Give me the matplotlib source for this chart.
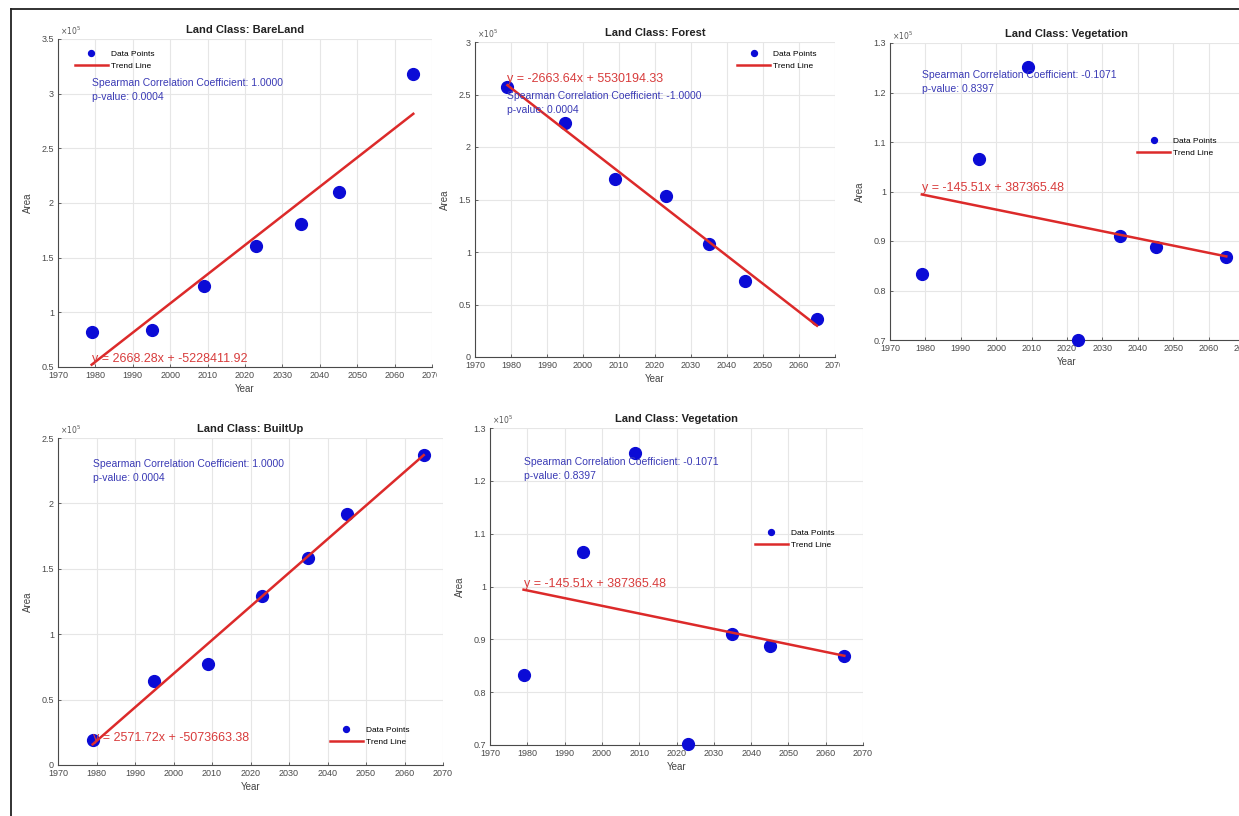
import numpy as np
import matplotlib.pyplot as plt
from matplotlib.patches import Rectangle
from matplotlib.ticker import FuncFormatter

plt.rcParams['font.family'] = ['Liberation Sans', 'DejaVu Sans']

# data (areas, the axes show them as x 10^5)
years = [1979, 1995, 2009, 2023, 2035, 2045, 2065]

bareland = [82000, 84000, 124000, 161000, 181000, 210000, 318000]
forest = [257000, 223000, 170000, 153000, 108000, 72000, 36000]
vegetation = [83300, 106600, 125200, 70100, 91000, 88800, 86800]
builtup = [19000, 64000, 77000, 129000, 158000, 192000, 237000]

# trend line coefficients as printed on the charts
slopes = [2668.28, -2663.64, -145.51, 2571.72, -145.51]
intercepts = [-5228411.92, 5530194.33, 387365.48, -5073663.38, 387365.48]
equations = ["y = 2668.28x + -5228411.92",
             "y = -2663.64x + 5530194.33",
             "y = -145.51x + 387365.48",
             "y = 2571.72x + -5073663.38",
             "y = -145.51x + 387365.48"]

rho = ["1.0000", "-1.0000", "-0.1071", "1.0000", "-0.1071"]
pval = ["0.0004", "0.0004", "0.8397", "0.0004", "0.8397"]

titles = ["BareLand", "Forest", "Vegetation", "BuiltUp", "Vegetation"]
series = [bareland, forest, vegetation, builtup, vegetation]
ylims = [(0.5e5, 3.5e5), (0, 3e5), (0.7e5, 1.3e5), (0, 2.5e5), (0.7e5, 1.3e5)]
ysteps = [0.5e5, 0.5e5, 0.1e5, 0.5e5, 0.1e5]

W, H = 1239, 816

def px(left, top, right, bottom):
    """ pixel box -> figure fraction box """
    return [left / W, 1 - bottom / H, (right - left) / W, (bottom - top) / H]

boxes = [px(58, 39, 432, 367),
         px(475, 42, 835, 357),
         px(890, 43, 1244, 340),
         px(58, 438, 443, 765),
         px(490, 428, 863, 745)]

# legend anchors (axes fraction) - roughly where matlab put them
leg_pos = [(0.045, 0.966), (0.728, 0.975), (0.698, 0.684),
           (0.706, 0.119), (0.710, 0.681)]

blue = '#0b0bd6'
red = '#dc2a2a'

fig = plt.figure(figsize=(W / 100, H / 100), dpi=100)

# white masks - the pasted figures overlap each other a bit
mask2 = Rectangle((437 / W, 1 - 395 / H), 403 / W, 385 / H,
                  transform=fig.transFigure, facecolor='white',
                  edgecolor='none', zorder=1)
mask3 = Rectangle((840 / W, 1 - 385 / H), 400 / W, 375 / H,
                  transform=fig.transFigure, facecolor='white',
                  edgecolor='none', zorder=3)
fig.add_artist(mask2)
fig.add_artist(mask3)

zorders = [0, 2, 4, 0, 0]

for i in range(5):
    ax = fig.add_axes(boxes[i])
    ax.set_zorder(zorders[i])
    vals = np.array(series[i])
    x = np.array(years)

    ax.plot(x, vals, 'o', color=blue, markersize=8.5, label='Data Points',
            clip_on=False, zorder=3)
    fit = slopes[i] * x + intercepts[i]
    ax.plot(x, fit, '-', color=red, linewidth=1.8, label='Trend Line',
            zorder=4)

    ax.set_xlim(1970, 2070)
    ax.set_ylim(*ylims[i])
    ax.set_xticks(np.arange(1970, 2071, 10))
    ax.set_yticks(np.arange(ylims[i][0], ylims[i][1] + 1, ysteps[i]))
    ax.yaxis.set_major_formatter(FuncFormatter(lambda v, p: '%g' % round(v / 1e5, 2)))

    ax.grid(True, color='#e6e6e6', linewidth=0.8)
    ax.set_axisbelow(True)
    for s in ['top', 'right']:
        ax.spines[s].set_visible(False)
    for s in ['left', 'bottom']:
        ax.spines[s].set_color('#4a4a4a')
        ax.spines[s].set_linewidth(0.8)
    ax.tick_params(direction='in', length=2, width=0.6, labelsize=6.5,
                   colors='#4a4a4a', pad=3)

    ax.set_title("Land Class: " + titles[i], fontsize=8, fontweight='bold',
                 color='#222222', pad=4)
    ax.set_xlabel("Year", fontsize=7, color='#444444', labelpad=3)
    ax.set_ylabel("Area", fontsize=7, color='#444444', labelpad=6)

    # exponent label like matlab
    ax.text(0.005, 1.005, r'$\times10^5$', transform=ax.transAxes,
            fontsize=5.5, color='#555555', ha='left', va='bottom')

    # correlation text
    yr = ylims[i][1] - ylims[i][0]
    ax.text(x[0], vals.max() - 0.05 * yr,
            "Spearman Correlation Coefficient: " + rho[i] + "\np-value: " + pval[i],
            fontsize=7.5, color='#3a3ab5', ha='left', va='center',
            linespacing=1.5, zorder=5)

    # equation text at the start of the trend line
    ax.text(x[0], fit[0], equations[i], fontsize=9, color='#d83c3c',
            ha='left', va='bottom', zorder=5)

    leg = ax.legend(loc='upper left', bbox_to_anchor=leg_pos[i], frameon=False,
                    fontsize=6, markerscale=0.5, handlelength=4,
                    borderpad=0, borderaxespad=0, labelspacing=0.5,
                    handletextpad=0.3)

# outer border of the page
fig.add_artist(plt.Line2D([11 / W, 11 / W], [0, 1 - 9 / H], color='#222222',
                          linewidth=1.3, transform=fig.transFigure, zorder=10))
fig.add_artist(plt.Line2D([11 / W, 1], [1 - 9 / H, 1 - 9 / H], color='#222222',
                          linewidth=1.3, transform=fig.transFigure, zorder=10))

fig.savefig('out.png', dpi=100)
